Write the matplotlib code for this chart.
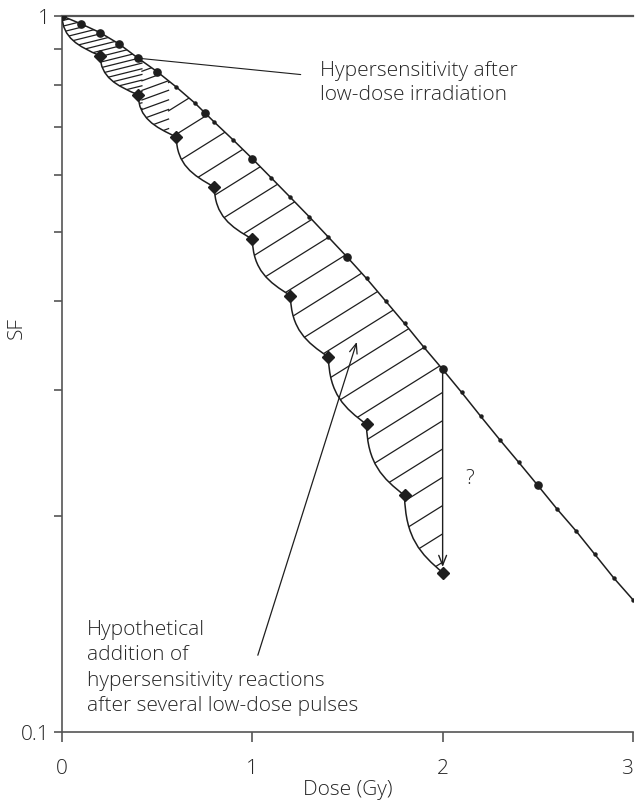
import numpy as np
import matplotlib
matplotlib.use("Agg")
import matplotlib.pyplot as plt
from matplotlib.path import Path
from matplotlib.patches import PathPatch
from matplotlib.lines import Line2D
from matplotlib.ticker import NullFormatter, NullLocator

# single acute dose survival curve, read every 0.1 Gy
dose_line = [0.0, 0.1, 0.2, 0.3, 0.4, 0.5, 0.6, 0.7, 0.8, 0.9, 1.0,
             1.1, 1.2, 1.3, 1.4, 1.5, 1.6, 1.7, 1.8, 1.9, 2.0,
             2.1, 2.2, 2.3, 2.4, 2.5, 2.6, 2.7, 2.8, 2.9, 3.0]
sf_line = [1.000, 0.975, 0.948, 0.914, 0.873, 0.836, 0.796, 0.755, 0.711, 0.671, 0.632,
           0.594, 0.558, 0.524, 0.491, 0.460, 0.430, 0.400, 0.372, 0.345, 0.321,
           0.298, 0.276, 0.256, 0.238, 0.221, 0.205, 0.191, 0.177, 0.164, 0.153]

# measured points on that curve (large dots)
dose_circles = [0.0, 0.1, 0.2, 0.3, 0.4, 0.5, 0.75, 1.0, 1.5, 2.0, 2.5]
sf_circles = [1.000, 0.975, 0.948, 0.914, 0.873, 0.836, 0.732, 0.632, 0.460, 0.321, 0.221]

# hypothetical pulsed low-dose curve (diamonds)
dose_pulses = [0.2, 0.4, 0.6, 0.8, 1.0, 1.2, 1.4, 1.6, 1.8, 2.0]
sf_pulses = [0.880, 0.776, 0.678, 0.577, 0.488, 0.407, 0.334, 0.269, 0.214, 0.167]

x_ticks = [0, 1, 2, 3]
x_labels = ["0", "1", "2", "3"]
y_ticks = [0.1, 1]
y_labels = ["0.1", "1"]
y_minor = [0.2, 0.3, 0.4, 0.5, 0.6, 0.7, 0.8, 0.9]

plt.rcParams["font.family"] = ["Open Sans", "DejaVu Sans"]
TXT = "#262626"
INK = "#1e1e1e"
AXC = "#555555"
FS = 15

fig = plt.figure(figsize=(6.35, 8.12), dpi=100)
ax = fig.add_axes([0.0976, 0.0973, 0.8992, 0.8818])
ax.set_yscale("log")

# survival curve with small dots and the larger measured points
ax.plot(dose_line, sf_line, color=INK, lw=1.1, marker="o", ms=2.2, zorder=3)
ax.plot(dose_circles, sf_circles, ls="none", marker="o", ms=5.2, color=INK, zorder=4)

# sawtooth curve through the pulse points
verts = [(dose_line[0], sf_line[0])]
codes = [Path.MOVETO]
prev_d, prev_s = dose_line[0], sf_line[0]
for d, s in zip(dose_pulses, sf_pulses):
    dd = d - prev_d
    lr = np.log10(s / prev_s)
    verts += [(prev_d + 0.02 * dd, prev_s * 10 ** (0.55 * lr)),
              (prev_d + 0.42 * dd, prev_s * 10 ** (0.76 * lr)),
              (d, s)]
    codes += [Path.CURVE4] * 3
    prev_d, prev_s = d, s
ax.add_patch(PathPatch(Path(verts, codes), fill=False, ec=INK, lw=1.1, zorder=3))
ax.plot(dose_pulses, sf_pulses, ls="none", marker="D", ms=6, color=INK, zorder=4)

# region between the two curves, used to clip the hatching
top = [(d, s) for d, s in zip(dose_line, sf_line) if d <= dose_pulses[-1]][::-1]
region = Path(verts + top + [top[-1]],
              codes + [Path.LINETO] * len(top) + [Path.CLOSEPOLY])
clip = PathPatch(region, fc="none", ec="none", transform=ax.transData)
ax.add_patch(clip)

fw, fh = fig.get_size_inches() * fig.dpi
pos = ax.get_position()
W, H = pos.width * fw, pos.height * fh
# (dose from, dose to, angle in degrees, gap in px)
bands = [(0.0, 0.42, 14, 5.5), (0.42, 0.56, 20, 9), (0.56, 2.0, 32, 24)]
for d0, d1, ang, gap in bands:
    x0, x1 = d0 / 3 * W, d1 / 3 * W
    t = np.tan(np.radians(ang))
    step = gap / np.cos(np.radians(ang))
    for c in np.arange(-t * x1, H + step, step):
        ln = Line2D([x0 / W, x1 / W], [(t * x0 + c) / H, (t * x1 + c) / H],
                    transform=ax.transAxes, color=INK, lw=0.9, zorder=2)
        ln.set_clip_path(clip)
        ax.add_line(ln)

# annotations
ax.annotate("Hypersensitivity after\nlow-dose irradiation",
            xy=(dose_circles[4], sf_circles[4]), xycoords="data",
            xytext=(0.452, 0.908), textcoords="axes fraction",
            ha="left", va="center", fontsize=FS, color=TXT, weight="light",
            linespacing=1.3,
            arrowprops=dict(arrowstyle="-", color=INK, lw=0.8,
                            relpos=(0, 0.62), shrinkA=12, shrinkB=0))

ax.annotate("", xy=(dose_pulses[-1], sf_pulses[-1]),
            xytext=(dose_line[20], sf_line[20]),
            arrowprops=dict(arrowstyle="->,head_length=0.5,head_width=0.2",
                            color=INK, lw=1.0, mutation_scale=14,
                            shrinkA=0, shrinkB=4))
ax.text(0.7145, 0.3547, "?", transform=ax.transAxes, ha="center", va="center",
        fontsize=FS, color=TXT, weight="light")

ax.annotate("", xy=(1.549, 0.3505), xytext=(1.029, 0.128),
            arrowprops=dict(arrowstyle="->,head_length=0.5,head_width=0.2",
                            color=INK, lw=0.9, mutation_scale=14,
                            shrinkA=0, shrinkB=0))
ax.text(0.0438, 0.091,
        "Hypothetical\naddition of\nhypersensitivity reactions\nafter several low-dose pulses",
        transform=ax.transAxes, ha="left", va="center", fontsize=FS,
        color=TXT, weight="light", linespacing=1.37)

# axes
ax.set_xlim(0, 3)
ax.set_ylim(0.1, 1)
ax.set_xticks(x_ticks)
ax.set_xticklabels(x_labels)
ax.xaxis.set_minor_locator(NullLocator())
ax.set_yticks(y_ticks)
ax.set_yticklabels(y_labels)
ax.set_yticks(y_minor, minor=True)
ax.yaxis.set_minor_formatter(NullFormatter())
ax.tick_params(axis="x", direction="out", length=7, width=1.2, pad=12,
               labelsize=FS, labelcolor=TXT, color=AXC)
ax.tick_params(axis="y", which="both", direction="out", length=6, width=1.2,
               pad=3, labelsize=FS, labelcolor=TXT, color=AXC)
for lab in ax.get_xticklabels() + ax.get_yticklabels():
    lab.set_fontweight("light")
ax.get_xticklabels()[-1].set_horizontalalignment("right")

ax.spines["right"].set_visible(False)
ax.spines["top"].set_linewidth(1.6)
ax.spines["left"].set_linewidth(1.2)
ax.spines["bottom"].set_linewidth(1.2)
for sp in ax.spines.values():
    sp.set_color(AXC)

ax.text(0.5, -0.0796, "Dose (Gy)", transform=ax.transAxes, ha="center",
        va="center", fontsize=FS, color=TXT, weight="light")
ax.text(-0.0793, 0.5656, "SF", transform=ax.transAxes, rotation=90,
        ha="center", va="center", fontsize=FS, color=TXT, weight="light")

fig.savefig("out.png", dpi=100)
